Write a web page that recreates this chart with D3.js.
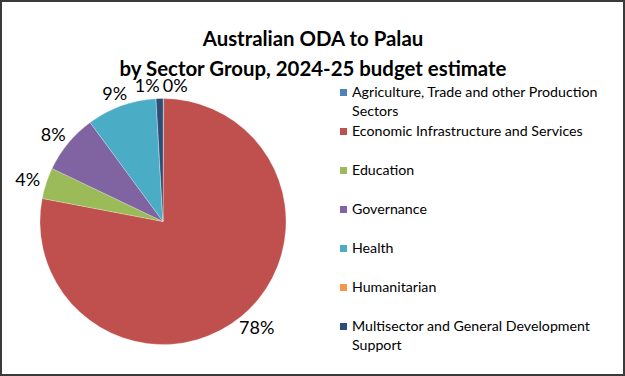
<!DOCTYPE html>
<html>
<head>
<meta charset="utf-8">
<script src="https://cdn.jsdelivr.net/npm/d3@7"></script>
<style>
  body { margin: 0; background: #fff; }
  svg { display: block; }
  text { font-family: Lato, "Open Sans", sans-serif; fill: #000; }
</style>
</head>
<body>
<div class="grafico"></div>
<script>
var width = 625;
var height = 376;

// datos (% del total)
var sectores = [
  "Agriculture, Trade and other Production Sectors",
  "Economic Infrastructure and Services",
  "Education",
  "Governance",
  "Health",
  "Humanitarian",
  "Multisector and General Development Support"
];
var valores = [0.1, 77.9, 4.1, 7.8, 9.2, 0.0, 0.9];
var colores = ["#4F81BD", "#C0504D", "#9BBB59", "#8064A2", "#4BACC6", "#F79646", "#2C4D75"];
var titulo = ["Australian ODA to Palau", "by Sector Group, 2024-25 budget estimate"];

var cx = 163, cy = 221.5, radio = 123;

var svg = d3.select('.grafico')
  .append('svg')
  .attr('width', width)
  .attr('height', height);

svg.append('rect')
  .attr('x', 1)
  .attr('y', 1)
  .attr('width', width - 2)
  .attr('height', height - 2)
  .attr('fill', '#fff')
  .attr('stroke', '#3a3a3a')
  .attr('stroke-width', 2);

// titulo
svg.append('text')
  .attr('text-anchor', 'middle')
  .attr('font-weight', 'bold')
  .attr('font-size', 20.4)
  .selectAll('tspan')
  .data(titulo)
  .enter()
  .append('tspan')
  .attr('x', 313)
  .attr('y', function (d, i) { return 46 + i * 29.5; })
  .text(function (d) { return d; });

var color = d3.scaleOrdinal().domain(sectores).range(colores);

var pie = d3.pie()
  .sort(null)
  .value(function (d, i) { return valores[i]; });

var arcos = pie(sectores);

var arc = d3.arc().innerRadius(0).outerRadius(radio);

var g = svg.append('g')
  .attr('transform', 'translate(' + cx + ',' + cy + ')');

g.selectAll('path')
  .data(arcos)
  .enter()
  .append('path')
  .attr('d', arc)
  .attr('fill', function (d) { return color(d.data); })
  .attr('stroke', '#fff')
  .attr('stroke-width', 0.4)
  .attr('stroke-opacity', 0.6);

// etiquetas de porcentaje
var total = d3.sum(valores);
var etiquetas = arcos.filter(function (d) { return d.value > 0; }).map(function (d) {
  return { a: (d.startAngle + d.endAngle) / 2, txt: Math.round(d.value / total * 100) + '%' };
});

var labels = g.selectAll('.etiqueta')
  .data(etiquetas)
  .enter()
  .append('text')
  .attr('class', 'etiqueta')
  .attr('font-size', 18)
  .attr('text-anchor', 'middle')
  .attr('dominant-baseline', 'central')
  .text(function (d) { return d.txt; });

var h = 14, gap = 7;
labels.each(function (d) {
  d.w = this.getComputedTextLength();
  var ux = Math.sin(d.a), uy = -Math.cos(d.a);
  d.x = (radio + gap) * ux + ux * d.w / 2;
  d.y = (radio + gap) * uy + uy * h / 2;
});

// separar etiquetas que se tocan
etiquetas.sort(function (a, b) { return a.x - b.x; });
for (var k = 0; k < etiquetas.length - 1; k++) {
  var p = etiquetas[k], q = etiquetas[k + 1];
  if (Math.abs(p.y - q.y) < h) {
    var solape = (p.w + q.w) / 2 + 3 - (q.x - p.x);
    if (solape > 0) {
      p.x -= solape / 2;
      q.x += solape / 2;
    }
  }
}

labels
  .attr('x', function (d) { return d.x; })
  .attr('y', function (d) { return d.y; });

// leyenda
var yLeyenda = d3.scaleBand()
  .domain(sectores)
  .range([83, 83 + 39 * sectores.length]);

var leyenda = svg.selectAll('.leyenda')
  .data(sectores)
  .enter()
  .append('g')
  .attr('class', 'leyenda')
  .attr('transform', function (d) { return 'translate(340,' + yLeyenda(d) + ')'; });

leyenda.append('rect')
  .attr('x', 0)
  .attr('y', 6)
  .attr('width', 7)
  .attr('height', 7)
  .attr('fill', function (d) { return color(d); });

leyenda.append('text')
  .attr('font-size', 14.2)
  .attr('x', 12)
  .attr('y', 14)
  .each(function (d) {
    var t = d3.select(this);
    var palabras = d.split(' ');
    var linea = [];
    var tspan = t.append('tspan').attr('x', 12).attr('dy', 0);
    palabras.forEach(function (p) {
      linea.push(p);
      tspan.text(linea.join(' '));
      if (tspan.node().getComputedTextLength() > 255 && linea.length > 1) {
        linea.pop();
        tspan.text(linea.join(' '));
        linea = [p];
        tspan = t.append('tspan').attr('x', 12).attr('dy', 18.5).text(p);
      }
    });
  });
</script>
</body>
</html>
